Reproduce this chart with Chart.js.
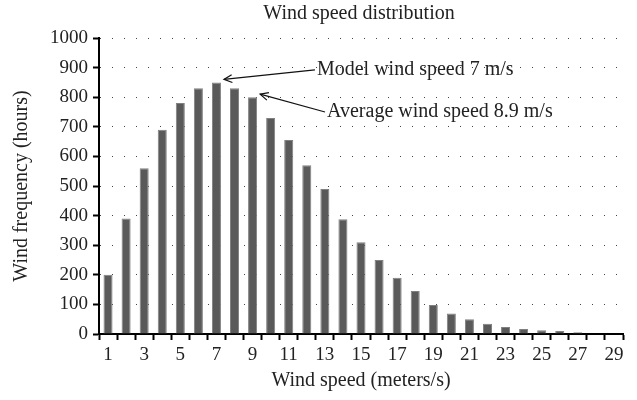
<!DOCTYPE html>
<html>
<head>
<meta charset="utf-8">
<script src="https://cdn.jsdelivr.net/npm/chart.js@4"></script>
<style>
  html, body { margin: 0; padding: 0; background: #fff; }
  #wrap { width: 637px; height: 400px; }
</style>
</head>
<body>
<div id="wrap"><canvas id="windChart"></canvas></div>
<script>
// wind speed classes (m/s) and hours per class
const speeds = [1, 2, 3, 4, 5, 6, 7, 8, 9, 10, 11, 12, 13, 14, 15, 16, 17, 18, 19, 20, 21, 22, 23, 24, 25, 26, 27, 28, 29];
const hours = [200, 390, 560, 690, 780, 830, 850, 830, 800, 730, 655, 570, 490, 388, 310, 250, 190, 145, 98, 69, 50, 35, 24, 17, 13, 10, 6, 0, 0];
const yTicks = [0, 100, 200, 300, 400, 500, 600, 700, 800, 900, 1000];

// callouts: text, the bar they point at, where the text sits (category index, hours)
const notes = [
    { text: 'Model wind speed 7 m/s', bar: 6, at: [11.56, 892] },
    { text: 'Average wind speed 8.9 m/s', bar: 8, at: [12.12, 750] }
];

const serif = '"Liberation Serif", "DejaVu Serif", serif';

const calloutPlugin = {
    id: 'callouts',
    afterDraw(chart) {
        const ctx = chart.ctx;
        const xs = chart.scales.x, ys = chart.scales.y;
        const meta = chart.getDatasetMeta(0);
        ctx.save();
        // title
        ctx.fillStyle = '#222';
        ctx.font = '20px ' + serif;
        ctx.textAlign = 'center';
        ctx.textBaseline = 'middle';
        ctx.fillText('Wind speed distribution', 359, 14);

        notes.forEach(n => {
            const bar = meta.data[n.bar];
            const tipX = bar.x + bar.width / 2 + 3;
            const tipY = ys.getPixelForValue(hours[n.bar]) - 3;
            const tx = xs.getPixelForValue(n.at[0]);
            const ty = ys.getPixelForValue(n.at[1]);
            ctx.strokeStyle = '#111';
            ctx.lineWidth = 1.2;
            ctx.beginPath();
            ctx.moveTo(tx - 2, ty);
            ctx.lineTo(tipX, tipY);
            ctx.stroke();
            const ang = Math.atan2(ty - tipY, tx - 2 - tipX);
            ctx.beginPath();
            ctx.moveTo(tipX + 9 * Math.cos(ang - 0.45), tipY + 9 * Math.sin(ang - 0.45));
            ctx.lineTo(tipX, tipY);
            ctx.lineTo(tipX + 9 * Math.cos(ang + 0.45), tipY + 9 * Math.sin(ang + 0.45));
            ctx.stroke();
            ctx.fillStyle = '#222';
            ctx.textAlign = 'left';
            ctx.fillText(n.text, tx, ty);
        });
        ctx.restore();
    }
};

const ctx = document.getElementById('windChart').getContext('2d');
new Chart(ctx, {
    type: 'bar',
    data: {
        labels: speeds,
        datasets: [{
            data: hours,
            backgroundColor: '#5a5a5a',
            borderColor: '#808080',
            borderWidth: 1,
            barPercentage: 0.5,
            categoryPercentage: 1.0
        }]
    },
    options: {
        responsive: true,
        maintainAspectRatio: false,
        animation: false,
        layout: { padding: { top: 38, right: 14, left: 0, bottom: 0 } },
        plugins: {
            legend: { display: false },
            title: { display: false },
            tooltip: { enabled: false }
        },
        scales: {
            x: {
                grid: {
                    drawOnChartArea: false,
                    drawTicks: true,
                    tickLength: 6,
                    tickColor: '#000',
                    tickWidth: 2
                },
                border: { color: '#000', width: 2 },
                ticks: {
                    autoSkip: false,
                    maxRotation: 0,
                    padding: 4,
                    color: '#222',
                    font: { family: serif, size: 19 },
                    callback: function(val, i) { return i % 2 === 0 ? speeds[i] : ''; }
                },
                title: {
                    display: true,
                    text: 'Wind speed (meters/s)',
                    color: '#222',
                    font: { family: serif, size: 20 },
                    padding: { top: 7, bottom: 7 }
                },
                afterFit: s => { s.height = 66; }
            },
            y: {
                min: 0,
                max: 1000,
                afterBuildTicks: s => { s.ticks = yTicks.map(v => ({ value: v })); },
                grid: {
                    color: '#444',
                    lineWidth: 1,
                    drawTicks: true,
                    tickLength: 6,
                    tickColor: '#000',
                    tickWidth: 2,
                    tickBorderDash: []
                },
                border: { color: '#000', width: 2, dash: [1, 11] },
                ticks: {
                    padding: 5,
                    color: '#222',
                    font: { family: serif, size: 19 },
                    callback: v => String(v)
                },
                title: {
                    display: true,
                    text: 'Wind frequency (hours)',
                    color: '#222',
                    font: { family: serif, size: 20 },
                    padding: { top: 10, bottom: 0 }
                },
                afterFit: s => { s.width = 99; }
            }
        }
    },
    plugins: [calloutPlugin]
});
</script>
</body>
</html>
